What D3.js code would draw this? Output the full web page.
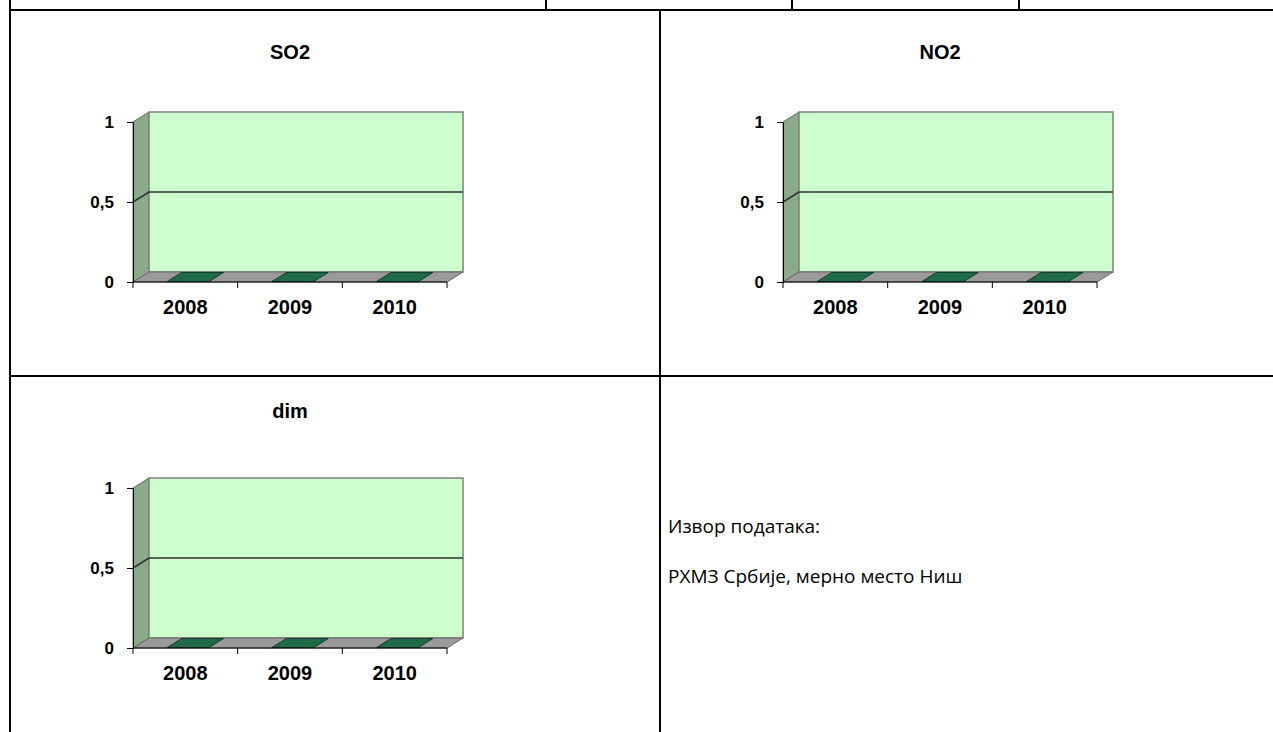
<!DOCTYPE html>
<html>
<head>
<meta charset="utf-8">
<script src="https://cdn.jsdelivr.net/npm/d3@7"></script>
<style>
  body { margin: 0; background: #fff; }
  svg { display: block; }
  .ttl { font-family: "Liberation Sans", Arial, sans-serif; font-weight: bold; font-size: 20px; }
  .yax text { font-family: "Liberation Sans", Arial, sans-serif; font-weight: bold; font-size: 17px; fill: #000; }
  .xax text { font-family: "Liberation Sans", Arial, sans-serif; font-weight: bold; font-size: 20px; fill: #000; }
  .note { font-family: "Open Sans", "Noto Sans", sans-serif; font-size: 19px; }
</style>
</head>
<body>
<svg id="viz" width="1273" height="732"></svg>
<script>
// Data

var years = ["2008", "2009", "2010"];
var pollutants = ["SO2", "NO2", "dim"];
var so2_values = [0, 0, 0];
var no2_values = [0, 0, 0];
var dim_values = [0, 0, 0];
var y_ticks = [0, 0.5, 1];
var y_tick_labels = ["0", "0,5", "1"];
var note_lines = ["Извор података:", "РХМЗ Србије, мерно место Ниш"];

var series = [so2_values, no2_values, dim_values];

// Table cells the charts sit in
var panels = [
  { left: 10, top: 10, title_y: 49 },
  { left: 660, top: 10, title_y: 49 },
  { left: 10, top: 376, title_y: 42 }
];

var svg = d3.select("#viz");

// Table borders

var borders = [
  [10, 0, 10, 732],
  [10, 10, 1273, 10],
  [546, 0, 546, 10],
  [792, 0, 792, 10],
  [1019, 0, 1019, 10],
  [660, 10, 660, 732],
  [10, 376, 1273, 376]
];

svg.append("g").selectAll("line")
  .data(borders)
  .enter().append("line")
    .attr("x1", d => d[0]).attr("y1", d => d[1])
    .attr("x2", d => d[2]).attr("y2", d => d[3])
    .attr("stroke", "#000")
    .attr("stroke-width", 2);

// 3D column charts

var depth_x = 16, depth_y = -10;
var chart_w = 314, chart_h = 160;

pollutants.forEach(function(name, i) {
  var p = panels[i];
  var ox = p.left + 123, oy = p.top + 112;

  var g = svg.append("g").attr("transform", "translate(" + ox + "," + oy + ")");

  var x = d3.scaleBand().domain(years).range([0, chart_w]);
  var y = d3.scaleLinear().domain([0, 1]).range([chart_h, 0]);

  var pts = a => a.map(q => q.join(",")).join(" ");

  // side wall
  g.append("polygon")
    .attr("points", pts([[0, y(0)], [0, y(1)], [depth_x, y(1) + depth_y], [depth_x, y(0) + depth_y]]))
    .attr("fill", "#89ab89")
    .attr("stroke", "#5f705f").attr("stroke-width", 1);

  // back wall
  g.append("rect")
    .attr("x", depth_x).attr("y", y(1) + depth_y)
    .attr("width", chart_w).attr("height", y(0) - y(1))
    .attr("fill", "#ccffcc")
    .attr("stroke", "#808080").attr("stroke-width", 1.5);

  // floor
  g.append("polygon")
    .attr("points", pts([[0, y(0)], [chart_w, y(0)], [chart_w + depth_x, y(0) + depth_y], [depth_x, y(0) + depth_y]]))
    .attr("fill", "#9a9a9a")
    .attr("stroke", "#666").attr("stroke-width", 1);

  // gridlines
  var grid = y_ticks.filter(t => t > 0 && t < 1);
  g.append("g").selectAll("path")
    .data(grid)
    .enter().append("path")
      .attr("d", t => "M0," + y(t) + "L" + depth_x + "," + (y(t) + depth_y) + "H" + (chart_w + depth_x))
      .attr("fill", "none")
      .attr("stroke", "#333").attr("stroke-width", 1.6);

  // columns
  var bw = x.bandwidth() * 0.4;
  var f1 = 0.05, f2 = 0.95;
  var bars = g.append("g").selectAll("g")
    .data(series[i].map((v, k) => ({ year: years[k], value: v })))
    .enter().append("g");

  bars.append("polygon")
    .attr("points", function(d) {
      var bx = x(d.year) + x.bandwidth() * 0.32, top = y(d.value);
      return pts([
        [bx + depth_x * f1, top + depth_y * f1],
        [bx + bw + depth_x * f1, top + depth_y * f1],
        [bx + bw + depth_x * f2, top + depth_y * f2],
        [bx + depth_x * f2, top + depth_y * f2]
      ]);
    })
    .attr("fill", "#1f6b47")
    .attr("stroke", "#143d29").attr("stroke-width", 1);

  bars.filter(d => d.value > 0).append("rect")
    .attr("x", d => x(d.year) + x.bandwidth() * 0.32 + depth_x * f1)
    .attr("y", d => y(d.value) + depth_y * f1)
    .attr("width", bw)
    .attr("height", d => y(0) - y(d.value))
    .attr("fill", "#1f6b47");

  // y axis
  g.append("g").attr("class", "yax")
    .call(d3.axisLeft(y).tickValues(y_ticks)
      .tickFormat((t, k) => y_tick_labels[k])
      .tickSize(6).tickPadding(13))
    .call(a => a.select(".domain").attr("stroke", "#000"))
    .call(a => a.selectAll(".tick line").attr("stroke", "#000"));

  // x axis: labels at band centres, ticks at band edges
  g.append("g").attr("class", "xax")
    .attr("transform", "translate(0," + y(0) + ")")
    .call(d3.axisBottom(x).tickSize(0).tickPadding(18))
    .call(a => a.select(".domain").remove());

  var edges = years.map(d => x(d)).concat([chart_w]);
  g.append("g").selectAll("line")
    .data(edges)
    .enter().append("line")
      .attr("x1", d => d).attr("x2", d => d)
      .attr("y1", y(0)).attr("y2", y(0) + 6)
      .attr("stroke", "#000");
  g.append("line")
    .attr("x1", 0).attr("x2", chart_w)
    .attr("y1", y(0)).attr("y2", y(0))
    .attr("stroke", "#000");

  // title
  svg.append("text").attr("class", "ttl")
    .attr("x", p.left + 280).attr("y", p.top + p.title_y)
    .attr("text-anchor", "middle")
    .text(name);
});

// Source note

svg.append("g").selectAll("text")
  .data(note_lines)
  .enter().append("text")
    .attr("class", "note")
    .attr("x", 668)
    .attr("y", (d, k) => 533 + k * 50)
    .text(d => d);
</script>
</body>
</html>
